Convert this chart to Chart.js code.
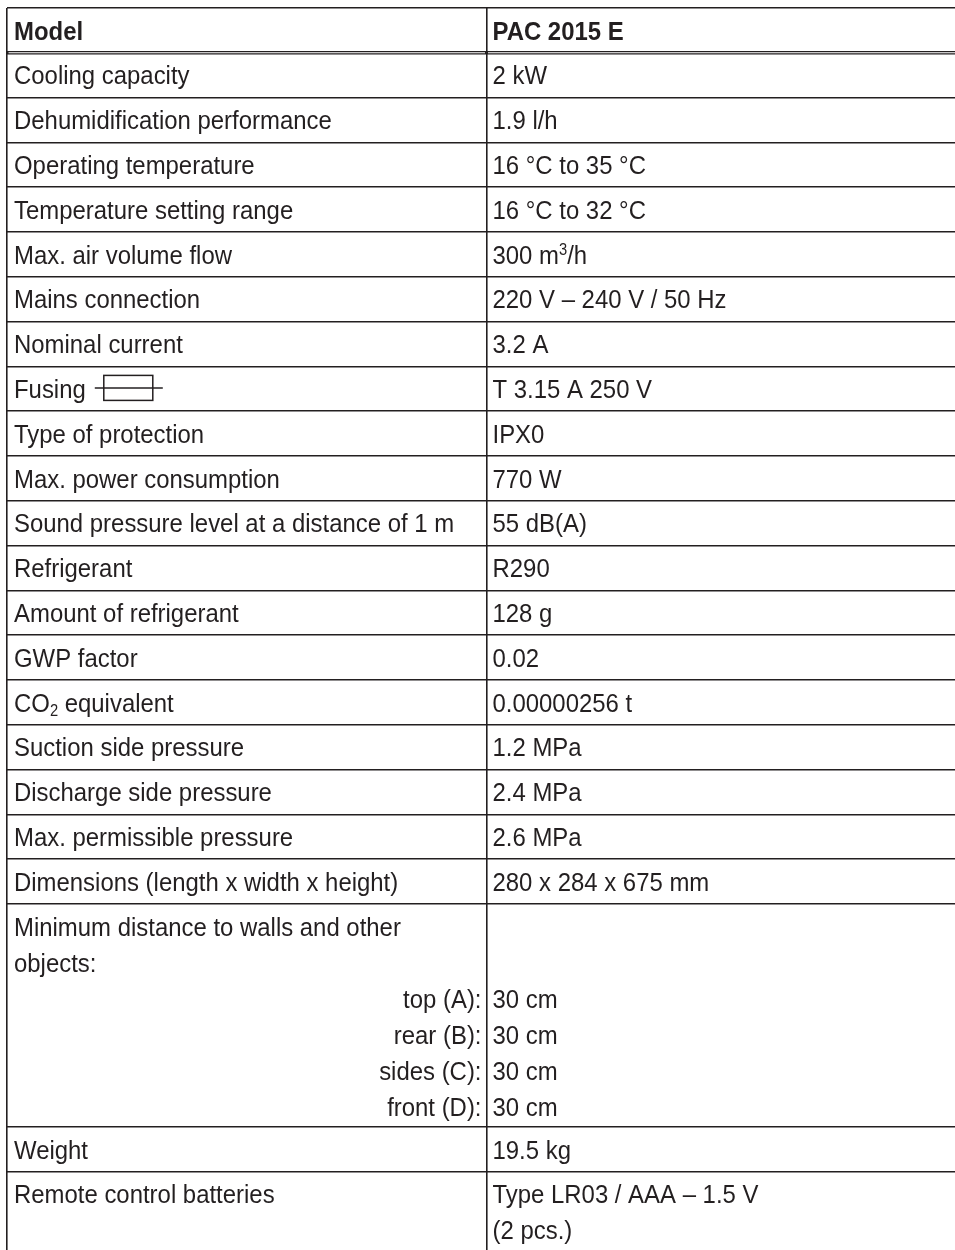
<!DOCTYPE html>
<html>
<head>
<meta charset="utf-8">
<script src="https://cdn.jsdelivr.net/npm/chart.js@4.4.1/dist/chart.umd.min.js"></script>
<style>
  html, body { margin: 0; padding: 0; background: #fff; overflow: hidden; }
  canvas { display: block; }
</style>
</head>
<body>
<canvas id="specTable" width="980" height="1262"></canvas>
<script>
// table content ('^x' = superscript, '_x' = subscript)
const columnHeads = ['Model', 'PAC 2015 E'];
const rowLabels = [
  'Cooling capacity',
  'Dehumidification performance',
  'Operating temperature',
  'Temperature setting range',
  'Max. air volume flow',
  'Mains connection',
  'Nominal current',
  'Fusing',
  'Type of protection',
  'Max. power consumption',
  'Sound pressure level at a distance of 1 m',
  'Refrigerant',
  'Amount of refrigerant',
  'GWP factor',
  'CO_2 equivalent',
  'Suction side pressure',
  'Discharge side pressure',
  'Max. permissible pressure',
  'Dimensions (length x width x height)',
  ['Minimum distance to walls and other', 'objects:'],
  'Weight',
  'Remote control batteries'
];
const rowValues = [
  '2 kW',
  '1.9 l/h',
  '16 °C to 35 °C',
  '16 °C to 32 °C',
  '300 m^3/h',
  '220 V – 240 V / 50 Hz',
  '3.2 A',
  'T 3.15 A 250 V',
  'IPX0',
  '770 W',
  '55 dB(A)',
  'R290',
  '128 g',
  '0.02',
  '0.00000256 t',
  '1.2 MPa',
  '2.4 MPa',
  '2.6 MPa',
  '280 x 284 x 675 mm',
  '',
  '19.5 kg',
  ['Type LR03 / AAA – 1.5 V', '(2 pcs.)']
];
const distanceLabels = ['top (A):', 'rear (B):', 'sides (C):', 'front (D):'];
const distanceValues = ['30 cm', '30 cm', '30 cm', '30 cm'];

const ROW_H = 44.8, LINE_H = 36, TEXT_TOP = 31.5;
const FONT = '"Liberation Sans", Arial, sans-serif';
const SX = 0.92;
const INK = '#231f20';

const toLines = v => Array.isArray(v) ? v : [v];

// build table rows
const rows = [{ left: [columnHeads[0]], right: [columnHeads[1]], bold: true, rightFrom: 99 }];
rowLabels.forEach((label, i) => {
  let left = toLines(label).slice();
  let right = toLines(rowValues[i]).slice();
  let rightFrom = 99;
  if (Array.isArray(label) && label[0].startsWith('Minimum')) {
    rightFrom = left.length;
    right = left.map(() => '').concat(distanceValues);
    left = left.concat(distanceLabels);
  }
  rows.push({ left, right, bold: false, rightFrom });
});

const rowStarts = [];
let total = 0;
rows.forEach(r => {
  const n = Math.max(r.left.length, r.right.length);
  r.start = total;
  r.end = total + (n === 1 ? ROW_H : n * LINE_H + 7);
  rowStarts.push(total);
  total = r.end;
});

const datasets = rows.map((r, i) => ({
  label: 'row ' + i,
  data: [[r.start, r.end], [r.start, r.end]],
  backgroundColor: '#ffffff',
  borderWidth: 0,
  grouped: false,
  categoryPercentage: 1,
  barPercentage: 1
}));

function parseRich(str) {
  const segs = [];
  let buf = '';
  for (let i = 0; i < str.length; i++) {
    const ch = str[i];
    if ((ch === '^' || ch === '_') && i + 1 < str.length) {
      if (buf) segs.push({ t: buf, kind: 'n' });
      buf = '';
      segs.push({ t: str[i + 1], kind: ch === '^' ? 'sup' : 'sub' });
      i++;
    } else {
      buf += ch;
    }
  }
  if (buf) segs.push({ t: buf, kind: 'n' });
  return segs;
}

function drawRich(ctx, str, px, py, align, bold) {
  const segs = parseRich(str);
  const fontFor = s => (bold ? 'bold ' : '') + (s.kind === 'n' ? '26px ' : '16px ') + FONT;
  let w = 0;
  segs.forEach(s => { ctx.font = fontFor(s); s.w = ctx.measureText(s.t).width * SX; w += s.w; });
  let cx = align === 'right' ? px - w : px;
  segs.forEach(s => {
    ctx.font = fontFor(s);
    const dy = s.kind === 'sup' ? -9 : s.kind === 'sub' ? 4 : 0;
    ctx.save();
    ctx.translate(cx, py + dy);
    ctx.scale(SX, 1);
    ctx.fillText(s.t, 0, 0);
    ctx.restore();
    cx += s.w;
  });
  return cx;
}

function drawFuse(ctx, x0, base) {
  ctx.save();
  ctx.strokeStyle = INK;
  ctx.lineWidth = 1.5;
  ctx.beginPath();
  ctx.moveTo(x0 + 9, base - 10);
  ctx.lineTo(x0 + 77, base - 10);
  ctx.stroke();
  ctx.strokeRect(x0 + 18, base - 22.5, 49, 25);
  ctx.restore();
}

const cellText = {
  id: 'cellText',
  afterDraw(chart) {
    const { ctx, scales: { x, y }, chartArea } = chart;
    const band = x.getPixelForValue(1) - x.getPixelForValue(0);
    const edges = [x.getPixelForValue(0) - band / 2, x.getPixelForValue(1) - band / 2];

    // double rule under the header row
    const hy = y.getPixelForValue(rowStarts[1]);
    ctx.save();
    ctx.strokeStyle = '#ffffff';
    ctx.lineWidth = 1.1;
    ctx.beginPath();
    ctx.moveTo(edges[0] + 1.5, hy);
    ctx.lineTo(edges[1] - 1.5, hy);
    ctx.moveTo(edges[1] + 1.5, hy);
    ctx.lineTo(chartArea.right, hy);
    ctx.stroke();
    ctx.restore();

    ctx.save();
    ctx.fillStyle = INK;
    ctx.textBaseline = 'alphabetic';
    rows.forEach(r => {
      const top = y.getPixelForValue(r.start);
      r.left.forEach((t, k) => {
        if (!t) return;
        const base = top + TEXT_TOP + k * LINE_H;
        const right = k >= r.rightFrom;
        const endX = right
          ? drawRich(ctx, t, edges[1] - 5, base, 'right', r.bold)
          : drawRich(ctx, t, edges[0] + 7, base, 'left', r.bold);
        if (t === 'Fusing') drawFuse(ctx, endX, base);
      });
      r.right.forEach((t, k) => {
        if (!t) return;
        const base = top + TEXT_TOP + k * LINE_H;
        drawRich(ctx, t, edges[1] + 6, base, 'left', r.bold);
      });
    });
    ctx.restore();
  }
};

const canvas = document.getElementById('specTable');
new Chart(canvas, {
  type: 'bar',
  data: { labels: ['Item', 'Value'], datasets },
  options: {
    responsive: false,
    animation: false,
    devicePixelRatio: 1,
    layout: { padding: { top: 8, left: 7, right: 14, bottom: canvas.height - 8 - total } },
    plugins: { legend: { display: false }, tooltip: { enabled: false } },
    scales: {
      x: {
        type: 'category',
        offset: true,
        border: { display: false },
        ticks: { display: false },
        grid: { z: 1, offset: true, drawTicks: false, color: INK, lineWidth: 1.6 }
      },
      y: {
        type: 'linear',
        reverse: true,
        min: 0,
        max: total,
        border: { display: false },
        ticks: { display: false },
        grid: {
          z: 1,
          drawTicks: false,
          color: INK,
          lineWidth: c => (c.tick && c.tick.value === rowStarts[1]) ? 3.4 : 1.6
        },
        afterBuildTicks: s => { s.ticks = rowStarts.concat([total]).map(v => ({ value: v })); }
      }
    }
  },
  plugins: [cellText]
});
</script>
</body>
</html>
